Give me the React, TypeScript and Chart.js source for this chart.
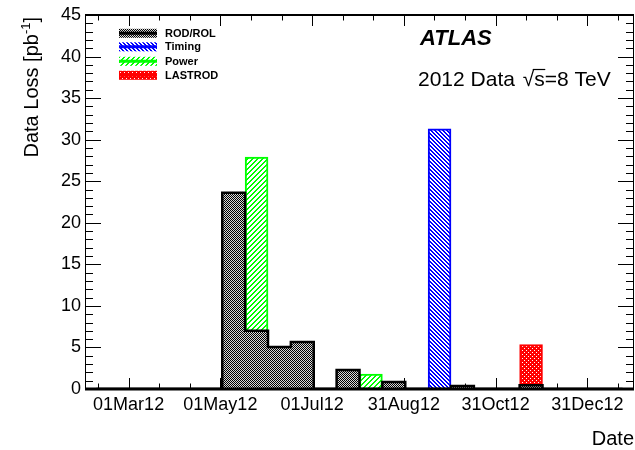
import React, { useEffect, useRef } from 'react';
import { Chart, registerables } from 'chart.js';

Chart.register(...registerables);

// ---- data ----
const binDates = [
  '01Feb12', '16Feb12', '02Mar12', '17Mar12', '01Apr12', '16Apr12',
  '02May12', '17May12', '01Jun12', '16Jun12', '01Jul12', '17Jul12',
  '01Aug12', '16Aug12', '31Aug12', '15Sep12', '01Oct12', '16Oct12',
  '31Oct12', '15Nov12', '30Nov12', '16Dec12', '31Dec12', '15Jan13',
];
const rodRol = [0, 0, 0, 0, 0, 0, 23.6, 7.0, 5.05, 5.65, 0, 2.3, 0, 0.85, 0, 0, 0.35, 0, 0, 0.45, 0, 0, 0, 0];
const timing = [0, 0, 0, 0, 0, 0, 0, 0, 0, 0, 0, 0, 0, 0, 0, 31.3, 0, 0, 0, 0, 0, 0, 0, 0];
const power = [0, 0, 0, 0, 0, 0, 0, 20.9, 0, 0, 0, 0, 1.8, 0, 0, 0, 0, 0, 0, 0, 0, 0, 0, 0];
const lastrod = [0, 0, 0, 0, 0, 0, 0, 0, 0, 0, 0, 0, 0, 0, 0, 0, 0, 0, 0, 4.9, 0, 0, 0, 0];

// date axis: days since 01 Feb 2012
const dateAxisRange = [0, 365];
const dateTickDays = [29, 90, 151, 212, 273, 334];
const dateTickLabels = ['01Mar12', '01May12', '01Jul12', '31Aug12', '31Oct12', '31Dec12'];
const yRange = [0, 45];
const yStep = 5;

const seriesNames = ['ROD/ROL', 'Timing', 'Power', 'LASTROD'];
const seriesColors = ['#000000', '#0000ff', '#00ff00', '#ff0000'];

const FONT = "'Liberation Sans', Arial, Helvetica, sans-serif";

function makePattern(size: number, paint: (x: number, y: number) => string): CanvasPattern | string {
  const c = document.createElement('canvas');
  c.width = size;
  c.height = size;
  const g = c.getContext('2d');
  if (!g) return '#888';
  for (let y = 0; y < size; y++) {
    for (let x = 0; x < size; x++) {
      g.fillStyle = paint(x, y);
      g.fillRect(x, y, 1, 1);
    }
  }
  const p = g.createPattern(c, 'repeat');
  return p || '#888';
}

export default function App() {
  const ref = useRef<HTMLCanvasElement | null>(null);

  useEffect(() => {
    const canvas = ref.current;
    if (!canvas) return;

    const patBlack = makePattern(2, (x, y) => ((x + y) % 2 === 0 ? '#000000' : '#d8d8d8'));
    const patBlue = makePattern(4, (x, y) => (((x - y + 8) % 4) < 2 ? '#0000ff' : '#ffffff'));
    const patGreen = makePattern(5, (x, y) => (((x + y) % 5) < 2 ? '#00ff00' : '#ffffff'));
    const patRed = makePattern(4, (x, y) =>
      (y === 0 && x === 0) || (y === 2 && x === 2) ? '#ffffff' : '#ff0000'
    );
    const patterns = [patBlack, patBlue, patGreen, patRed];

    const axesPlugin = {
      id: 'rootAxes',
      beforeDatasetsDraw(chart: any) {
        const { ctx, chartArea } = chart;
        const { left, right, top, bottom } = chartArea;
        const ys = chart.scales.y;
        const xs = chart.scales.xd;
        ctx.save();
        ctx.strokeStyle = '#000';
        ctx.lineWidth = 1;
        ctx.beginPath();
        for (let v = yRange[0]; v <= yRange[1]; v += 1) {
          const py = Math.round(ys.getPixelForValue(v)) + 0.5;
          const len = v % yStep === 0 ? 16 : 8;
          ctx.moveTo(left, py);
          ctx.lineTo(left + len, py);
          ctx.moveTo(right, py);
          ctx.lineTo(right - len, py);
        }
        const minorStep = (dateTickDays[1] - dateTickDays[0]) / 3;
        const pos: { d: number; major: boolean }[] = [];
        let d0 = dateTickDays[0];
        while (d0 - minorStep >= dateAxisRange[0]) d0 -= minorStep;
        for (let k = 0; d0 + k * minorStep <= dateAxisRange[1]; k++) {
          const d = d0 + k * minorStep;
          const major = dateTickDays.some((t) => Math.abs(t - d) < 0.01);
          pos.push({ d, major });
        }
        pos.forEach(({ d, major }) => {
          const px = Math.round(xs.getPixelForValue(d)) + 0.5;
          const len = major ? 11 : 5.5;
          ctx.moveTo(px, bottom);
          ctx.lineTo(px, bottom - len);
          ctx.moveTo(px, top);
          ctx.lineTo(px, top + len);
        });
        ctx.stroke();
        ctx.restore();
      },
      afterDatasetsDraw(chart: any) {
        const { ctx, chartArea } = chart;
        const { left, right, top, bottom } = chartArea;
        ctx.save();
        ctx.strokeStyle = '#000';
        ctx.lineWidth = 2;
        ctx.beginPath();
        ctx.moveTo(left, top);
        ctx.lineTo(right, top);
        ctx.stroke();
        ctx.lineWidth = 1;
        ctx.beginPath();
        ctx.moveTo(left + 0.5, top);
        ctx.lineTo(left + 0.5, bottom);
        ctx.moveTo(right - 0.5, top);
        ctx.lineTo(right - 0.5, bottom);
        ctx.stroke();
        ctx.lineWidth = 3;
        ctx.beginPath();
        ctx.moveTo(left, bottom);
        ctx.lineTo(right, bottom);
        ctx.stroke();
        ctx.restore();
      },
      afterDraw(chart: any) {
        const { ctx } = chart;
        ctx.save();
        ctx.fillStyle = '#000';
        ctx.textBaseline = 'alphabetic';

        // Y title
        ctx.save();
        ctx.translate(38, 17);
        ctx.rotate(-Math.PI / 2);
        const f1 = `20px ${FONT}`;
        const f2 = `13px ${FONT}`;
        ctx.font = f1;
        const w1 = ctx.measureText('Data Loss [pb').width;
        const w3 = ctx.measureText(']').width;
        ctx.font = f2;
        const w2 = ctx.measureText('-1').width;
        const W = w1 + w2 + w3;
        let x = -W;
        ctx.font = f1;
        ctx.textAlign = 'left';
        ctx.fillText('Data Loss [pb', x, 0);
        x += w1;
        ctx.font = f2;
        ctx.fillText('-1', x, -8);
        x += w2;
        ctx.font = f1;
        ctx.fillText(']', x, 0);
        ctx.restore();

        // X title
        ctx.font = `20px ${FONT}`;
        ctx.textAlign = 'right';
        ctx.fillText('Date', 634, 445);

        // ATLAS
        ctx.textAlign = 'left';
        ctx.font = `italic bold 22px ${FONT}`;
        ctx.fillText('ATLAS', 420, 45);

        // 2012 Data sqrt(s)=8 TeV
        ctx.font = `21px ${FONT}`;
        let tx = 418;
        const ty = 86;
        const p1 = '2012 Data ';
        ctx.fillText(p1, tx, ty);
        tx += ctx.measureText(p1).width + 2;
        ctx.fillText('\u221A', tx, ty);
        const sqW = ctx.measureText('\u221A').width;
        tx += sqW;
        const sW = ctx.measureText('s').width;
        ctx.fillText('s', tx, ty);
        ctx.lineWidth = 1.2;
        ctx.strokeStyle = '#000';
        ctx.beginPath();
        ctx.moveTo(tx - 1.5, ty - 16.5);
        ctx.lineTo(tx + sW + 0.5, ty - 16.5);
        ctx.stroke();
        tx += sW;
        ctx.fillText('=8 TeV', tx, ty);

        // Legend
        const rows = [33.3, 46.8, 61.3, 75.3];
        seriesNames.forEach((name, i) => {
          const cy = rows[i];
          ctx.fillStyle = patterns[i] as any;
          ctx.fillRect(119, cy - 4.5, 38, 9);
          ctx.strokeStyle = seriesColors[i];
          ctx.lineWidth = 3;
          ctx.beginPath();
          ctx.moveTo(119, cy);
          ctx.lineTo(157, cy);
          ctx.stroke();
          ctx.fillStyle = '#000';
          ctx.font = `bold 11px ${FONT}`;
          ctx.textBaseline = 'middle';
          ctx.fillText(name, 165, cy + 0.5);
          ctx.textBaseline = 'alphabetic';
        });
        ctx.restore();
      },
    };

    const barBase = {
      type: 'bar' as const,
      xAxisID: 'x',
      yAxisID: 'y',
      stack: 'main',
      barPercentage: 1,
      categoryPercentage: 1,
      borderSkipped: 'start' as const,
      order: 1,
    };

    const chart = new Chart(canvas, {
      type: 'bar',
      data: {
        labels: binDates,
        datasets: [
          { ...barBase, label: seriesNames[0], data: rodRol, backgroundColor: patBlack as any, borderWidth: 0 },
          { ...barBase, label: seriesNames[1], data: timing, backgroundColor: patBlue as any, borderColor: seriesColors[1], borderWidth: 2 },
          { ...barBase, label: seriesNames[2], data: power, backgroundColor: patGreen as any, borderColor: seriesColors[2], borderWidth: 2 },
          { ...barBase, label: seriesNames[3], data: lastrod, backgroundColor: patRed as any, borderColor: seriesColors[3], borderWidth: 2 },
          {
            type: 'line' as const,
            label: 'ROD/ROL outline',
            data: rodRol,
            xAxisID: 'x',
            yAxisID: 'y',
            stack: 'outline',
            stepped: 'middle',
            borderColor: '#000',
            borderWidth: 2.5,
            pointRadius: 0,
            fill: false,
            order: 0,
          } as any,
        ],
      },
      options: {
        responsive: false,
        animation: false,
        events: [],
        layout: { padding: { top: 15, right: 1, left: 0, bottom: 0 } },
        plugins: {
          legend: { display: false },
          tooltip: { enabled: false },
          title: { display: false },
        },
        scales: {
          x: {
            type: 'category',
            display: false,
            stacked: true,
            offset: true,
          },
          xd: {
            type: 'linear',
            position: 'bottom',
            offset: false,
            min: dateAxisRange[0],
            max: dateAxisRange[1],
            afterBuildTicks: (s: any) => {
              s.ticks = dateTickDays.map((v) => ({ value: v }));
            },
            afterFit: (s: any) => {
              s.height = 61;
            },
            ticks: {
              autoSkip: false,
              maxRotation: 0,
              minRotation: 0,
              padding: 5,
              color: '#000',
              font: { family: FONT, size: 18 },
              callback: (_v: any, i: number) => dateTickLabels[i],
            },
            grid: { display: false, drawTicks: false },
            border: { display: false },
          } as any,
          y: {
            type: 'linear',
            stacked: true,
            min: yRange[0],
            max: yRange[1],
            afterFit: (s: any) => {
              s.width = 85;
            },
            ticks: {
              stepSize: yStep,
              padding: 4,
              color: '#000',
              font: { family: FONT, size: 18 },
            },
            grid: { display: false, drawTicks: false },
            border: { display: false },
          },
        },
      },
      plugins: [axesPlugin],
    });

    return () => {
      chart.destroy();
    };
  }, []);

  return (
    <div style={{ position: 'absolute', left: 0, top: 0, width: 635, height: 450, background: '#fff' }}>
      <canvas ref={ref} width={635} height={450} style={{ display: 'block', width: 635, height: 450 }} />
    </div>
  );
}
